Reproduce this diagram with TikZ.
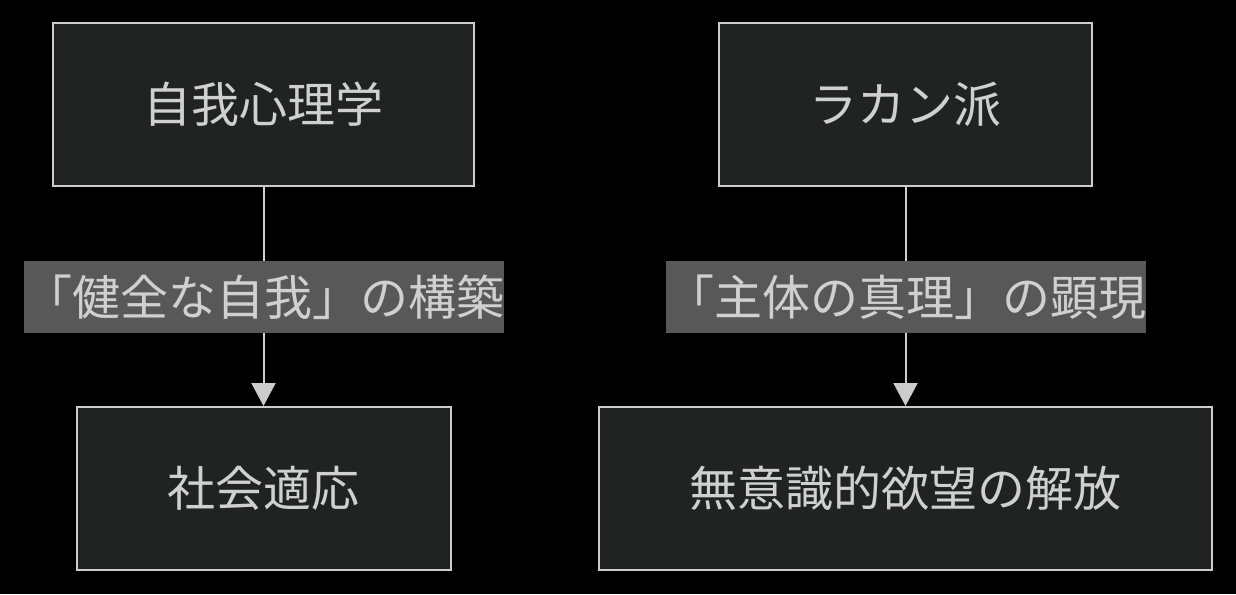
\documentclass[tikz,border=0pt]{standalone}
\usepackage{fontspec}
\setmainfont{Noto Sans CJK JP}
\usetikzlibrary{arrows.meta}
\definecolor{boxfill}{HTML}{212322}
\definecolor{linec}{HTML}{CCCCCC}
\definecolor{labbg}{HTML}{585858}
\definecolor{txtc}{HTML}{D0D0D0}
\tikzset{
  x=1pt, y=-1pt,
  boxnode/.style={draw=linec, fill=boxfill, line width=2pt, minimum height=163pt, inner sep=0pt, text=txtc, font=\fontsize{48}{57}\selectfont},
  labnode/.style={fill=labbg, minimum height=72pt, minimum width=480pt, inner sep=0pt, text=txtc, font=\fontsize{48}{57}\selectfont},
  conn/.style={draw=linec, line width=2pt, -{Triangle[width=24pt,length=23pt]}, color=linec}
}
\begin{document}
\begin{tikzpicture}
\fill[black] (0,0) rectangle (1236,594);
\useasboundingbox (0,0) rectangle (1236,594);
\node[boxnode, minimum width=421pt] (A) at (263.5,104.5) {自我心理学};
\node[boxnode, minimum width=373pt] (B) at (905.5,104.5) {ラカン派};
\node[boxnode, minimum width=374pt] (C) at (263.5,488.5) {社会適応};
\node[boxnode, minimum width=613pt] (D) at (905.5,488.5) {無意識的欲望の解放};
\draw[conn] (A.south) -- (C.north);
\draw[conn] (B.south) -- (D.north);
\node[labnode] (L1) at (264,297) {「健全な自我」の構築};
\node[labnode] (L2) at (906,297) {「主体の真理」の顕現};
\end{tikzpicture}
\end{document}
